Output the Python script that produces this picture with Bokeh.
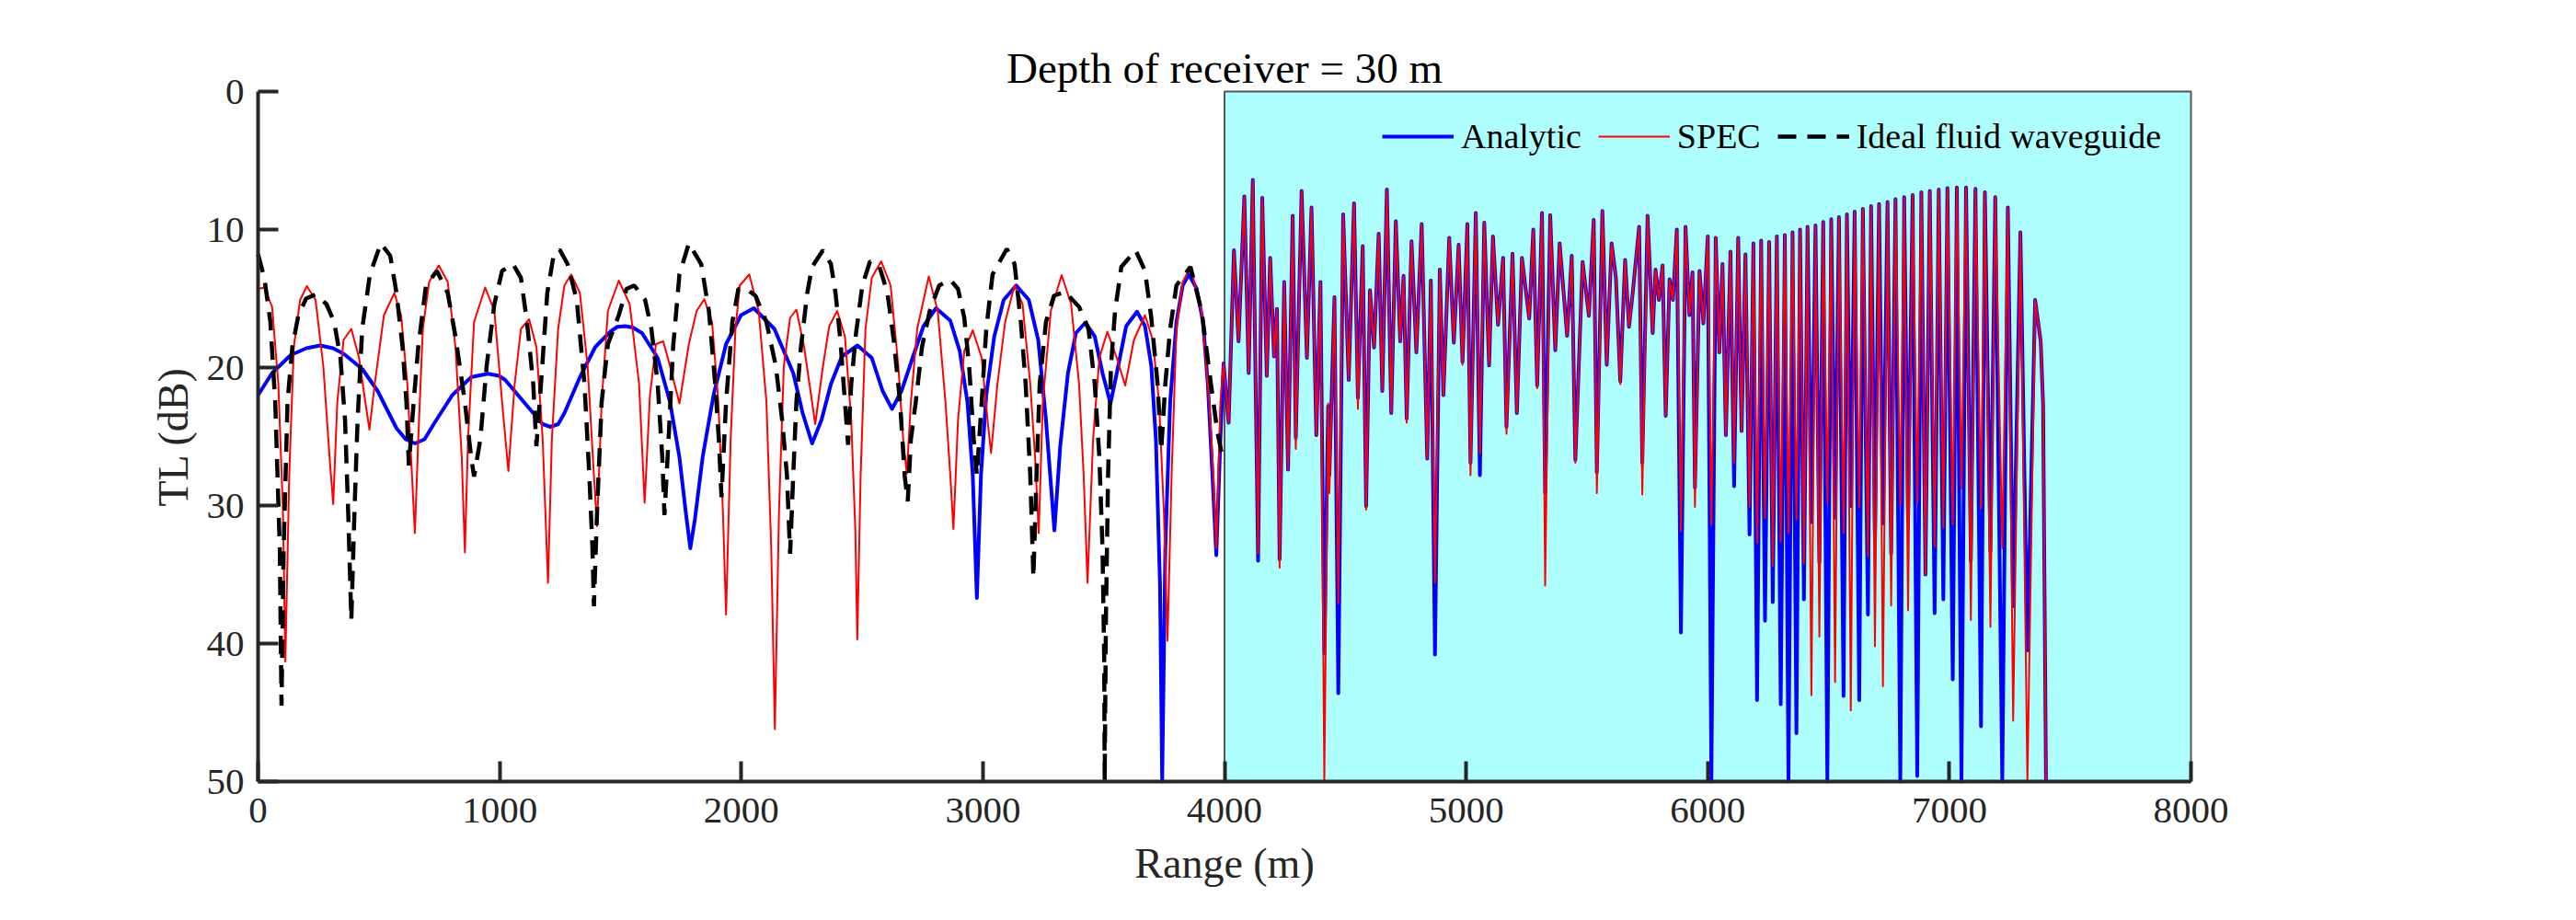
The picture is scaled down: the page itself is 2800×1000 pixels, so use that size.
from bokeh.plotting import figure
from bokeh.models import Range1d, FixedTicker, Legend, LegendItem
from bokeh.embed import file_html
from bokeh.resources import INLINE

# ---------------- data ----------------
title_text = "Depth of receiver = 30 m"
x_label = "Range (m)"
y_label = "TL (dB)"
x_ticks = [0, 1000, 2000, 3000, 4000, 5000, 6000, 7000, 8000]
y_ticks = [0, 10, 20, 30, 40, 50]
shade_range = [4000, 8000]
shade_tl = [0, 50]

# Analytic, 0-4000 m
analytic_range_near = [0, 58, 135, 200, 257, 310, 354, 431, 495, 573, 611, 650, 689, 727,
                       804, 882, 907, 952, 997, 1023, 1100, 1178, 1210, 1242, 1268, 1332, 1396, 1461,
                       1487, 1519, 1551, 1589, 1654, 1705, 1744, 1770, 1789, 1808, 1840, 1885,
                       1937, 1999, 2052, 2137, 2215, 2254, 2293, 2332, 2371, 2416,
                       2481, 2540, 2585, 2624, 2663, 2709, 2754, 2806, 2865, 2904,
                       2936, 2958, 2975, 2992, 3014, 3047, 3086, 3138, 3190, 3229,
                       3261, 3296, 3320, 3352, 3385, 3424, 3463, 3495, 3528, 3560,
                       3593, 3638, 3671, 3697, 3716, 3733, 3742, 3755, 3775, 3801,
                       3827, 3853, 3885, 3911, 3931, 3950, 3966, 3983]
analytic_tl_near = [22.0, 20.4, 19.1, 18.6, 18.4, 18.6, 19.0, 20.1, 21.7, 24.4, 25.2, 25.5, 25.2, 24.1,
                    22.0, 20.7, 20.6, 20.45, 20.6, 20.9, 22.5, 24.1, 24.3, 24.1, 23.3, 20.7, 18.5, 17.35,
                    17.05, 17.0, 17.1, 17.5, 19.3, 22.5, 26.5, 30.45, 33.1, 31.0, 26.5, 22.0,
                    18.3, 16.2, 15.7, 17.2, 20.4, 23.3, 25.5, 23.8, 21.2, 19.2,
                    18.4, 19.3, 21.7, 23.0, 21.7, 19.3, 17.0, 15.7, 16.6, 18.8,
                    22.5, 27.8, 36.7, 27.8, 22.0, 17.75, 15.1, 14.05, 15.1, 18.0,
                    23.8, 31.8, 25.7, 20.4, 17.5, 16.75, 17.75, 20.4, 22.6, 19.9,
                    17.0, 15.95, 17.0, 19.9, 25.2, 35.7, 50.0, 33.1, 22.5, 16.7,
                    14.05, 13.25, 14.3, 16.7, 21.2, 27.8, 33.6, 25.2]

# SPEC, 0-4000 m
spec_range_near = [0, 26, 58, 84, 103, 113, 129, 148, 174, 202,
                   238, 270, 296, 311, 328, 354, 386, 418, 444, 461,
                   483, 521, 564, 592, 618, 637, 649, 663, 682, 708,
                   748, 785, 817, 843, 856, 869, 894, 940, 978, 1010,
                   1036, 1062, 1088, 1122, 1152, 1178, 1200, 1216, 1242, 1268,
                   1296, 1332, 1364, 1390, 1403, 1422, 1448, 1493, 1538, 1577,
                   1600, 1622, 1647, 1677, 1705, 1744, 1783, 1815, 1847, 1879,
                   1905, 1924, 1937, 1956, 1976, 1994, 2033, 2072, 2104, 2124,
                   2139, 2156, 2176, 2202, 2228, 2260, 2306, 2338, 2364, 2397,
                   2429, 2455, 2472, 2480, 2494, 2514, 2540, 2579, 2618, 2650,
                   2670, 2685, 2702, 2728, 2776, 2813, 2845, 2865, 2878, 2897,
                   2923, 2958, 2995, 3021, 3034, 3060, 3092, 3131, 3164, 3196,
                   3216, 3231, 3248, 3281, 3326, 3365, 3398, 3417, 3433, 3456,
                   3482, 3515, 3554, 3589, 3625, 3671, 3703, 3729, 3749, 3764,
                   3781, 3801, 3827, 3859, 3905, 3937, 3954, 3966, 3983]
spec_tl_near = [14.3, 14.2, 15.6, 21.2, 30.4, 41.3, 27.8, 18.5, 15.1, 14.1,
                15.1, 19.9, 26.5, 29.9, 22.5, 18.0, 17.2, 19.3, 22.5, 24.5,
                21.2, 16.2, 14.6, 16.2, 21.2, 27.8, 32.0, 25.2, 17.2, 13.8,
                12.6, 13.8, 18.5, 26.5, 33.4, 25.2, 16.7, 14.2, 15.9, 22.5,
                27.5, 21.2, 17.2, 16.5, 18.5, 25.2, 35.6, 25.2, 17.2, 14.05,
                13.25, 14.6, 19.9, 27.8, 31.5, 22.5, 15.9, 13.7, 15.4, 21.2,
                29.8, 22.0, 18.3, 18.1, 19.9, 22.6, 18.3, 15.9, 15.05, 16.7,
                22.5, 30.45, 37.9, 25.2, 17.2, 14.05, 13.25, 15.9, 22.5, 33.1,
                46.2, 30.45, 19.9, 16.4, 15.8, 18.5, 24.1, 19.9, 17.0, 15.9,
                17.75, 23.8, 31.8, 39.7, 27.8, 17.2, 13.5, 12.3, 14.05, 19.9,
                25.2, 27.7, 22.5, 17.2, 13.4, 15.9, 22.5, 27.8, 31.7, 23.8,
                18.8, 17.3, 19.3, 24.1, 26.2, 21.2, 16.7, 14.05, 15.4, 21.2,
                26.5, 32.0, 22.5, 15.9, 13.3, 15.4, 21.2, 27.8, 35.6, 25.2,
                19.3, 17.4, 19.3, 21.3, 18.0, 16.2, 18.0, 22.5, 30.45, 39.8,
                27.8, 17.2, 13.8, 12.7, 15.9, 22.5, 27.8, 33.1, 22.5]

# 4000-7400 m (peaks and troughs), shared ranges
range_far = [3996, 4017, 4039, 4058, 4082, 4100, 4117, 4139, 4156, 4175,
             4189, 4205, 4217, 4228, 4247, 4263, 4282, 4295, 4319, 4341,
             4360, 4380, 4397, 4413, 4429, 4434, 4455, 4471, 4491, 4514,
             4536, 4552, 4572, 4586, 4602, 4619, 4638, 4653, 4672, 4690,
             4709, 4727, 4741, 4754, 4774, 4794, 4816, 4839, 4854, 4871,
             4891, 4906, 4930, 4949, 4969, 4985, 5005, 5018, 5040, 5057,
             5075, 5095, 5111, 5132, 5153, 5167, 5192, 5210, 5231, 5261,
             5278, 5294, 5314, 5327, 5348, 5369, 5387, 5418, 5437, 5452,
             5482, 5508, 5528, 5541, 5564, 5582, 5602, 5620, 5638, 5658,
             5674, 5690, 5716, 5729, 5751, 5772, 5784, 5798, 5813, 5826,
             5842, 5856, 5872, 5889, 5908, 5924, 5937, 5947, 5966, 5982,
             6000, 6015, 6033, 6048, 6061, 6075, 6094, 6109, 6126, 6140,
             6156, 6173, 6189, 6204, 6221, 6237, 6254, 6269, 6286, 6302,
             6319, 6334, 6351, 6367, 6382, 6398, 6413, 6429, 6446, 6462,
             6478, 6495, 6511, 6527, 6543, 6562, 6576, 6592, 6608, 6627,
             6642, 6663, 6676, 6692, 6709, 6725, 6744, 6759, 6777, 6797,
             6813, 6829, 6848, 6867, 6884, 6901, 6919, 6939, 6956, 6975,
             6992, 7014, 7031, 7050, 7069, 7089, 7108, 7131, 7147, 7170,
             7190, 7219, 7242, 7264, 7294, 7323, 7355, 7378, 7388, 7400]
analytic_tl_far = [19.7, 24.0, 11.5, 18.1, 7.6, 20.4, 6.4, 34.0, 7.7, 20.6,
                   12.05, 19.2, 15.75, 33.9, 13.8, 27.4, 9.0, 25.1, 7.2, 19.3,
                   8.4, 24.9, 13.8, 40.7, 22.8, 27.8, 14.9, 43.6, 8.9, 20.9,
                   8.1, 22.2, 11.2, 30.05, 14.4, 18.55, 10.3, 21.7, 7.1, 23.3,
                   9.4, 18.1, 13.35, 23.7, 10.85, 18.9, 9.6, 26.6, 13.7, 40.8,
                   12.9, 22.0, 10.6, 18.2, 11.1, 19.6, 9.6, 26.9, 8.8, 27.8,
                   9.5, 19.85, 10.5, 16.9, 12.05, 24.3, 11.75, 23.3, 12.05, 16.45,
                   10.0, 21.3, 8.8, 29.1, 8.95, 18.75, 11.0, 17.7, 11.9, 26.7,
                   12.35, 16.25, 9.3, 27.6, 8.65, 19.8, 11.0, 13.5, 21.0, 12.2,
                   17.05, 14.5, 9.8, 26.9, 9.0, 17.5, 12.9, 15.1, 12.6, 23.5,
                   13.6, 15.1, 10.0, 39.2, 9.8, 16.2, 13.1, 28.7, 13.0, 16.8,
                   10.5, 50.0, 10.6, 18.9, 12.5, 24.9, 11.6, 28.6, 10.6, 24.6,
                   11.8, 32.1, 11.0, 44.1, 10.8, 38.35, 10.9, 37.0, 10.5, 44.4,
                   10.4, 50.0, 10.2, 46.5, 10.0, 36.8, 9.8, 31.2, 9.7, 34.1,
                   9.45, 50.0, 9.25, 30.9, 9.1, 43.8, 8.9, 30.05, 8.7, 44.1,
                   8.5, 37.9, 8.3, 32.4, 8.15, 31.3, 8.0, 33.5, 7.8, 50.0,
                   7.65, 31.1, 7.5, 49.6, 7.3, 35.0, 7.2, 37.8, 7.1, 36.8,
                   7.0, 42.6, 6.95, 50.0, 6.95, 34.0, 7.05, 46.0, 7.3, 33.3,
                   7.65, 50.0, 8.4, 37.3, 10.2, 40.5, 15.1, 18.1, 22.7, 50.0]
spec_tl_far = [19.7, 24.0, 11.5, 18.1, 7.6, 20.4, 6.4, 33.5, 7.7, 20.6,
               12.05, 19.2, 15.75, 34.5, 13.8, 27.4, 9.0, 25.9, 7.2, 19.3,
               8.4, 24.9, 13.8, 50.0, 22.6, 29.1, 14.9, 37.1, 8.9, 20.9,
               8.1, 23.0, 11.2, 30.3, 14.4, 18.55, 10.3, 21.7, 7.1, 23.3,
               9.4, 18.1, 13.35, 24.0, 10.85, 18.9, 9.6, 26.6, 13.7, 35.6,
               12.9, 22.0, 10.6, 18.2, 11.1, 19.8, 9.6, 27.8, 8.8, 26.2,
               9.5, 19.85, 10.5, 16.9, 12.05, 24.8, 11.75, 23.3, 12.05, 16.45,
               10.0, 21.5, 8.8, 35.8, 8.95, 18.75, 11.0, 17.7, 11.9, 26.9,
               12.35, 16.25, 9.3, 29.1, 8.65, 19.8, 11.0, 13.5, 21.2, 12.2,
               17.05, 14.5, 9.8, 29.2, 9.0, 17.5, 12.9, 15.1, 12.6, 23.5,
               13.6, 15.1, 10.0, 31.85, 9.8, 16.2, 13.1, 30.1, 13.0, 16.8,
               10.5, 31.4, 10.6, 18.9, 12.5, 24.9, 11.6, 26.9, 10.6, 24.6,
               11.8, 30.1, 11.0, 32.7, 10.8, 30.9, 10.9, 34.4, 10.5, 32.6,
               10.4, 32.0, 10.2, 31.0, 10.0, 34.2, 9.8, 43.75, 9.7, 39.5,
               9.45, 29.8, 9.25, 42.8, 9.1, 32.0, 8.9, 44.85, 8.7, 30.1,
               8.5, 33.7, 8.3, 40.2, 8.15, 43.1, 8.0, 37.25, 7.8, 30.0,
               7.65, 37.6, 7.5, 29.8, 7.3, 35.0, 7.2, 33.0, 7.1, 31.6,
               7.0, 31.4, 6.95, 28.8, 6.95, 38.3, 7.05, 30.2, 7.3, 38.8,
               7.65, 33.1, 8.4, 45.6, 10.2, 50.0, 15.1, 18.1, 22.7, 50.0]

# Ideal fluid waveguide, 0-4000 m
ideal_range = [0, 26, 51, 71, 90, 97, 106, 122, 142, 167,
               199, 238, 283, 315, 341, 360, 373, 386, 399, 412,
               431, 463, 508, 547, 573, 598, 614, 624, 644, 663,
               695, 740, 785, 817, 856, 882, 894, 920, 946, 978,
               1010, 1055, 1088, 1113, 1139, 1152, 1171, 1197, 1223, 1248,
               1281, 1319, 1351, 1371, 1384, 1390, 1403, 1422, 1448, 1493,
               1525, 1557, 1602, 1628, 1654, 1673, 1682, 1699, 1718, 1744,
               1783, 1834, 1866, 1892, 1907, 1918, 1937, 1963, 1988, 2020,
               2059, 2104, 2143, 2169, 2189, 2202, 2215, 2228, 2247, 2273,
               2293, 2338, 2371, 2390, 2410, 2429, 2442, 2455, 2475, 2501,
               2533, 2572, 2605, 2631, 2657, 2676, 2689, 2702, 2722, 2748,
               2780, 2819, 2865, 2897, 2923, 2943, 2962, 2975, 2995, 3014,
               3040, 3099, 3131, 3157, 3177, 3196, 3209, 3222, 3235, 3261,
               3294, 3339, 3398, 3437, 3463, 3482, 3495, 3502, 3504, 3509,
               3518, 3530, 3547, 3573, 3632, 3671, 3697, 3723, 3738, 3755,
               3775, 3801, 3859, 3905, 3944, 3970, 3996]
ideal_tl = [11.8, 13.5, 16.7, 22.5, 33.1, 44.5, 33.1, 22.5, 18.5, 16.2,
            15.0, 14.7, 15.4, 16.7, 19.3, 23.8, 30.45, 38.3, 30.45, 23.8,
            17.2, 13.25, 11.0, 11.9, 14.6, 18.5, 22.5, 27.1, 22.5, 18.5,
            14.05, 13.0, 14.6, 17.75, 22.5, 26.5, 27.9, 25.2, 19.9, 15.4,
            13.0, 12.5, 13.5, 16.7, 21.2, 25.7, 21.2, 14.6, 11.9, 11.45,
            12.5, 15.1, 21.2, 27.8, 33.1, 37.3, 30.45, 22.5, 18.3, 16.2,
            14.3, 14.05, 15.1, 17.2, 21.2, 26.5, 30.7, 25.2, 18.5, 13.25,
            11.0, 12.5, 15.9, 21.2, 25.2, 29.4, 22.5, 16.7, 14.3, 14.3,
            14.8, 16.7, 19.9, 23.8, 27.8, 33.5, 27.8, 22.5, 18.5, 14.6,
            12.7, 11.5, 12.5, 14.6, 18.0, 22.5, 25.6, 21.2, 17.5, 14.05,
            12.3, 12.7, 14.6, 18.0, 22.5, 27.8, 29.7, 25.2, 22.5, 18.5,
            15.9, 14.05, 13.65, 14.3, 16.4, 19.9, 25.2, 27.8, 22.5, 17.2,
            13.25, 11.4, 12.5, 16.7, 21.2, 27.8, 35.2, 27.8, 21.2, 16.7,
            14.8, 14.5, 15.6, 17.2, 21.2, 26.5, 33.1, 41.0, 50.0, 38.4,
            27.8, 19.9, 15.9, 12.7, 11.5, 13.0, 16.4, 21.2, 26.0, 21.2,
            17.2, 14.05, 12.7, 15.9, 21.2, 24.6, 26.9]

assert len(analytic_range_near) == len(analytic_tl_near)
assert len(spec_range_near) == len(spec_tl_near)
assert len(range_far) == len(analytic_tl_far) == len(spec_tl_far)
assert len(ideal_range) == len(ideal_tl)

analytic_range = analytic_range_near + range_far
analytic_tl = analytic_tl_near + analytic_tl_far
spec_range = spec_range_near + range_far
spec_tl = spec_tl_near + spec_tl_far

# ---------------- figure ----------------
FONT = "Liberation Serif"
AX = "#262626"

p = figure(width=2784, height=984, output_backend="svg", toolbar_location=None,
           x_range=Range1d(0, 8000), y_range=Range1d(50, 0),
           min_border_left=280, min_border_right=403,
           min_border_top=99, min_border_bottom=135)
p.outline_line_color = None
p.grid.visible = False
p.background_fill_color = "white"
p.border_fill_color = "white"

p.title.text = title_text
p.title.align = "center"
p.title.text_font = FONT
p.title.text_font_size = "47px"
p.title.text_font_style = "normal"
p.title.text_color = "#000000"
p.title.standoff = 0

for ax in (p.xaxis[0], p.yaxis[0]):
    ax.axis_line_width = 4
    ax.axis_line_color = AX
    ax.major_tick_line_width = 4
    ax.major_tick_line_color = AX
    ax.major_tick_in = 22
    ax.major_tick_out = 0
    ax.minor_tick_line_color = None
    ax.major_label_text_font = FONT
    ax.major_label_text_font_size = "41px"
    ax.major_label_text_color = AX
    ax.axis_label_text_font = FONT
    ax.axis_label_text_font_size = "46px"
    ax.axis_label_text_font_style = "normal"
    ax.axis_label_text_color = AX

p.xaxis.ticker = FixedTicker(ticks=x_ticks)
p.yaxis.ticker = FixedTicker(ticks=y_ticks)
p.xaxis.axis_label = x_label
p.yaxis.axis_label = y_label
p.xaxis.major_label_standoff = 18
p.yaxis.major_label_standoff = 15
p.xaxis.axis_label_standoff = 16
p.yaxis.axis_label_standoff = 8

# shaded region (drawn at guide level so it tints the axis line, like the reference)
p.quad(left=[shade_range[0]], right=[shade_range[1]], top=[shade_tl[0]], bottom=[shade_tl[1]],
       fill_color="#00FFFF", fill_alpha=0.31, line_color="#555555", line_width=2, level="guide")

r_a = p.line(analytic_range, analytic_tl, line_color="#0000FF", line_width=4,
             line_join="round", level="guide")
r_s = p.line(spec_range, spec_tl, line_color="#FF0000", line_width=2,
             line_join="round", level="guide")
r_i = p.line(ideal_range, ideal_tl, line_color="#000000", line_width=4.5,
             line_dash="20 12", level="guide")

legend = Legend(items=[LegendItem(label="Analytic", renderers=[r_a]),
                       LegendItem(label="SPEC", renderers=[r_s]),
                       LegendItem(label="Ideal fluid waveguide", renderers=[r_i])],
                location=(1222, 679), orientation="horizontal",
                background_fill_alpha=0, border_line_color=None,
                label_text_font=FONT, label_text_font_size="38px", label_text_color="#000000",
                glyph_width=78, glyph_height=20, label_standoff=8, spacing=18,
                padding=10, margin=0)
p.add_layout(legend)

open("out.html", "w").write(file_html(p, INLINE))
